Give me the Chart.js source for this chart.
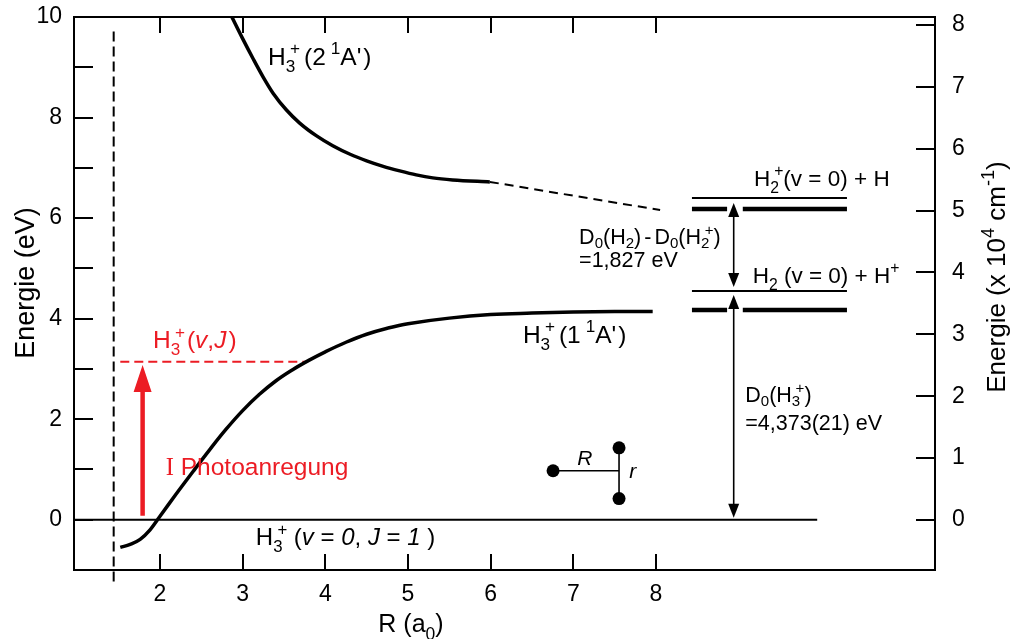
<!DOCTYPE html>
<html>
<head>
<meta charset="utf-8">
<script src="https://cdn.jsdelivr.net/npm/chart.js@4.4.1/dist/chart.umd.min.js"></script>
<style>
  html, body { margin: 0; padding: 0; background: #fff; }
  #wrap { width: 1010px; height: 639px; }
</style>
</head>
<body>
<div id="wrap"><canvas id="chart" width="1010" height="639"></canvas></div>
<script>
// --- data (R in a0, E in eV) ---
const xTicks = [2, 3, 4, 5, 6, 7, 8];
const yTicks = [0, 1, 2, 3, 4, 5, 6, 7, 8, 9, 10];
const y2Ticks = [0, 1, 2, 3, 4, 5, 6, 7, 8];

// ground state H3+(1 1A')
const lowerR = [1.52, 1.64, 1.76, 1.88, 2.0, 2.2, 2.4, 2.6, 2.8, 3.0, 3.2, 3.4, 3.6, 3.8, 4.0, 4.25, 4.5, 4.75, 5.0, 5.5, 6.0, 6.5, 7.0, 7.5, 7.96];
const lowerE = [-0.55, -0.49, -0.39, -0.20, 0.07, 0.52, 0.96, 1.39, 1.80, 2.17, 2.49, 2.76, 2.98, 3.17, 3.34, 3.53, 3.69, 3.81, 3.90, 4.01, 4.08, 4.11, 4.13, 4.14, 4.14];

// excited state H3+(2 1A')
const upperR = [2.82, 2.87, 3.0, 3.13, 3.25, 3.37, 3.53, 3.69, 3.89, 4.09, 4.3, 4.5, 4.7, 4.9, 5.1, 5.3, 5.54, 5.99];
const upperE = [10.17, 10.0, 9.57, 9.16, 8.80, 8.48, 8.15, 7.89, 7.64, 7.44, 7.27, 7.14, 7.03, 6.94, 6.86, 6.80, 6.76, 6.72];
const upperDashR = [5.99, 8.05];
const upperDashE = [6.72, 6.16];

// dissociation limits (thin = H2 levels, thick = H3+ asymptote)
const levelR = [8.435, 10.31];
const levelGapR = [8.86, 9.05];
const thinLevelE = [6.40, 4.55];
const thickLevelE = [6.18, 4.17];

const zeroLineR = [0.96, 9.95];
const vDashR = 1.44;
const vDashE = [-1.23, 9.78];

const excitedLevelE = 3.14;
const excitedLevelR = [1.52, 3.78];
const photoArrowR = 1.79;
const photoArrowE = [0.08, 3.08];

const arrowR = 8.94;
const d0H2E = [4.63, 6.30];
const d0H3E = [0.04, 4.47];

// molecule sketch: end atom, junction, two atoms of r
const molR = [6.755, 7.553];
const molE = [0.974, 1.43, 0.42];

const RED = '#ec1c24';
const FONT = 'Liberation Sans';

// --- helpers ---
function lineSet(xs, ys, extra) {
  return Object.assign({
    data: xs.map((x, i) => ({ x: x, y: ys[i] })),
    showLine: true, pointRadius: 0, borderColor: '#000', borderWidth: 2,
    backgroundColor: '#000', fill: false, tension: 0
  }, extra || {});
}

// parts: [text, flags]  flags: i italic, b sub, p sup, s serif, o stack on previous
// a part [number] is just a gap in px
function rich(ctx, parts, x, y, size, align, color, subDrop) {
  const items = [];
  let cx = 0, prev = null;
  const drop = subDrop === undefined ? 0.3 : subDrop;
  parts.forEach(p => {
    if (typeof p[0] === 'number') { cx += p[0]; return; }
    const t = p[0], m = p[1] || '';
    const small = m.includes('b') || m.includes('p');
    const fs = small ? size * 0.7 : size;
    const fam = m.includes('s') ? 'Liberation Serif' : FONT;
    const font = (m.includes('i') ? 'italic ' : '') + fs + 'px "' + fam + '"';
    ctx.font = font;
    const w = ctx.measureText(t).width;
    let sx = cx;
    if (m.includes('o') && prev) sx = prev.x + prev.w * 0.45;
    const dy = m.includes('b') ? size * drop : (m.includes('p') ? -size * 0.42 : 0);
    const it = { t, font, x: sx, w, dy };
    items.push(it);
    cx = Math.max(cx, sx + w);
    prev = it;
  });
  let x0 = x;
  if (align === 'center') x0 = x - cx / 2;
  else if (align === 'right') x0 = x - cx;
  ctx.fillStyle = color || '#000';
  ctx.textAlign = 'left';
  ctx.textBaseline = 'alphabetic';
  items.forEach(it => {
    ctx.font = it.font;
    ctx.fillText(it.t, x0 + it.x, y + it.dy);
  });
}

function arrowHead(ctx, px, py, dir, len, half, color) {
  ctx.save();
  ctx.fillStyle = color;
  ctx.beginPath();
  ctx.moveTo(px, py);
  ctx.lineTo(px - half, py - dir * len);
  ctx.lineTo(px + half, py - dir * len);
  ctx.closePath();
  ctx.fill();
  ctx.restore();
}

// annotations placed in data coordinates (left x / baseline)
const notes = [
  { r: 3.307, e: 9.05, s: 24.5, parts: [['H'], ['3', 'b'], ['+', 'po'], [4], ['(2'], [5], ['1', 'p'], ["A'"], [2], [')']] },
  { r: 6.39, e: 3.52, s: 24.5, parts: [['H'], ['3', 'b'], ['+', 'po'], [4], ['(1'], [5], ['1', 'p'], ["A'"], [2], [')']] },
  { r: 3.16, e: -0.50, s: 24, parts: [['H'], ['3', 'b'], ['+', 'po'], [' ('], ['v', 'i'], [' = '], ['0', 'i'], [', '], ['J', 'i'], [' = '], ['1', 'i'], [' )']] },
  { r: 1.915, e: 3.42, s: 24.5, c: RED, parts: [['H'], ['3', 'b'], ['+', 'po'], [2], ['('], ['v', 'i'], [','], ['J', 'i'], [2], [')']] },
  { r: 2.07, e: 0.895, s: 24.5, c: RED, parts: [['I', 's'], [' Photoanregung']] },
  { r: 9.185, e: 6.64, s: 22.5, parts: [['H'], ['2', 'b'], ['+', 'po'], ['(v = 0) + H']] },
  { r: 9.17, e: 4.71, s: 22.5, parts: [['H'], ['2', 'b'], [' (v = 0) + H'], ['+', 'p']] },
  { r: 7.07, e: 5.49, s: 21.5, d: 0.2, parts: [['D'], ['0', 'b'], ['(H'], ['2', 'b'], [')'], [3], ['-'], [3], ['D'], ['0', 'b'], ['(H'], ['2', 'b'], ['+', 'po'], [')']] },
  { r: 7.07, e: 5.03, s: 21.5, parts: [['=1,827 eV']] },
  { r: 9.08, e: 2.35, s: 21.5, d: 0.2, parts: [['D'], ['0', 'b'], ['(H'], ['3', 'b'], ['+', 'po'], [')']] },
  { r: 9.08, e: 1.79, s: 21.5, parts: [['=4,373(21) eV']] },
  { r: 7.14, e: 1.09, s: 21, a: 'center', parts: [['R', 'i']] },
  { r: 7.72, e: 0.83, s: 21, a: 'center', parts: [['r', 'i']] }
];

const decorPlugin = {
  id: 'decor',
  afterDatasetsDraw(chart) {
    const ctx = chart.ctx;
    const xs = chart.scales.x, ys = chart.scales.y, y2 = chart.scales.y2;
    const a = chart.chartArea;
    ctx.save();
    // frame
    ctx.strokeStyle = '#000';
    ctx.lineWidth = 2;
    ctx.strokeRect(a.left, a.top, a.right - a.left, a.bottom - a.top);
    // inward ticks
    ctx.beginPath();
    xTicks.forEach(v => {
      const px = Math.round(xs.getPixelForValue(v));
      ctx.moveTo(px, a.bottom); ctx.lineTo(px, a.bottom - 16);
      ctx.moveTo(px, a.top); ctx.lineTo(px, a.top + 16);
    });
    yTicks.forEach(v => {
      const py = Math.round(ys.getPixelForValue(v));
      ctx.moveTo(a.left, py); ctx.lineTo(a.left + 19, py);
    });
    y2Ticks.forEach(v => {
      const py = Math.round(y2.getPixelForValue(v));
      ctx.moveTo(a.right, py); ctx.lineTo(a.right - 19, py);
    });
    ctx.stroke();

    // arrow heads
    const ax = xs.getPixelForValue(photoArrowR);
    arrowHead(ctx, ax, ys.getPixelForValue(photoArrowE[1]), -1, 27, 9, RED);
    const bx = xs.getPixelForValue(arrowR);
    arrowHead(ctx, bx, ys.getPixelForValue(d0H2E[1]), -1, 14, 5.5, '#000');
    arrowHead(ctx, bx, ys.getPixelForValue(d0H2E[0]), 1, 14, 5.5, '#000');
    arrowHead(ctx, bx, ys.getPixelForValue(d0H3E[1]), -1, 14, 5.5, '#000');
    arrowHead(ctx, bx, ys.getPixelForValue(d0H3E[0]), 1, 14, 5.5, '#000');

    // text notes
    notes.forEach(n => {
      rich(ctx, n.parts, xs.getPixelForValue(n.r), ys.getPixelForValue(n.e), n.s, n.a || 'left', n.c || '#000', n.d);
    });

    // axis titles
    rich(ctx, [['R ('], ['a'], ['0', 'b'], [')']], 411, 632, 25, 'center', '#000');
    ctx.save();
    ctx.translate(34, 283);
    ctx.rotate(-Math.PI / 2);
    rich(ctx, [['Energie (eV)']], 0, 0, 27, 'center', '#000');
    ctx.restore();
    ctx.save();
    ctx.translate(1005, 277);
    ctx.rotate(-Math.PI / 2);
    rich(ctx, [['Energie (x 10'], ['4', 'p'], [' cm'], ['-1', 'p'], [')']], 0, 0, 26, 'center', '#000');
    ctx.restore();
    ctx.restore();
  }
};

const gapLevel = (e) => [
  { x: levelR[0], y: e }, { x: levelGapR[0], y: e }, { x: levelGapR[0], y: null },
  { x: levelGapR[1], y: e }, { x: levelR[1], y: e }
];

const datasets = [
  lineSet(zeroLineR, [0, 0]),
  lineSet([vDashR, vDashR], vDashE, { borderDash: [10, 5], clip: false }),
  lineSet(lowerR, lowerE, { borderWidth: 3.5, tension: 0.4 }),
  lineSet(upperR, upperE, { borderWidth: 3.5, cubicInterpolationMode: 'monotone' }),
  lineSet(upperDashR, upperDashE, { borderDash: [9, 6] }),
  lineSet(excitedLevelR, [excitedLevelE, excitedLevelE], { borderColor: RED, borderDash: [9, 5] }),
  lineSet([photoArrowR, photoArrowR], [photoArrowE[0], photoArrowE[1] - 0.45], { borderColor: RED, borderWidth: 4.5 }),
  lineSet(levelR, [thinLevelE[0], thinLevelE[0]]),
  lineSet(levelR, [thinLevelE[1], thinLevelE[1]]),
  { data: gapLevel(thickLevelE[0]), showLine: true, spanGaps: false, pointRadius: 0, borderColor: '#000', borderWidth: 4.5 },
  { data: gapLevel(thickLevelE[1]), showLine: true, spanGaps: false, pointRadius: 0, borderColor: '#000', borderWidth: 4.5 },
  lineSet([arrowR, arrowR], [d0H2E[0] + 0.2, d0H2E[1] - 0.2], { borderWidth: 1.6 }),
  lineSet([arrowR, arrowR], [d0H3E[0] + 0.2, d0H3E[1] - 0.2], { borderWidth: 1.6 }),
  lineSet([molR[0], molR[1]], [molE[0], molE[0]], { borderWidth: 1.6 }),
  lineSet([molR[1], molR[1]], [molE[1], molE[2]], { borderWidth: 1.6 }),
  { data: [{ x: molR[0], y: molE[0] }, { x: molR[1], y: molE[1] }, { x: molR[1], y: molE[2] }],
    showLine: false, pointRadius: 6.5, pointBackgroundColor: '#000', pointBorderWidth: 0 }
];

const tickFont = { family: FONT, size: 23 };
// vertical axes: no extra room for half-height end labels
const noVPad = s => { s.paddingTop = 0; s.paddingBottom = 0; };

new Chart(document.getElementById('chart'), {
  type: 'scatter',
  data: { datasets: datasets },
  options: {
    responsive: false,
    animation: false,
    events: [],
    layout: { padding: { top: 17, left: 0, right: 0, bottom: 0 } },
    plugins: { legend: { display: false }, tooltip: { enabled: false } },
    scales: {
      x: {
        type: 'linear', position: 'bottom', min: 0.96, max: 11.375,
        afterBuildTicks: s => { s.ticks = xTicks.map(v => ({ value: v })); },
        afterFit: s => { s.height = 69; s.paddingLeft = 0; s.paddingRight = 0; },
        grid: { display: false, drawTicks: false }, border: { display: false },
        ticks: { font: tickFont, color: '#000', padding: 11, maxRotation: 0, autoSkip: false }
      },
      y: {
        type: 'linear', position: 'left', min: -1.0, max: 10,
        afterBuildTicks: s => { s.ticks = yTicks.map(v => ({ value: v })); },
        afterFit: s => { s.width = 74; noVPad(s); },
        grid: { display: false, drawTicks: false }, border: { display: false },
        ticks: { font: tickFont, color: '#000', padding: 12, autoSkip: false,
          callback: v => (v % 2 === 0 ? String(v) : '') }
      },
      y2: {
        type: 'linear', position: 'right', min: -0.81, max: 8.13,
        afterBuildTicks: s => { s.ticks = y2Ticks.map(v => ({ value: v })); },
        afterFit: s => { s.width = 75; noVPad(s); },
        grid: { display: false, drawTicks: false }, border: { display: false },
        ticks: { font: tickFont, color: '#000', padding: 17, autoSkip: false }
      }
    }
  },
  plugins: [decorPlugin]
});
</script>
</body>
</html>
